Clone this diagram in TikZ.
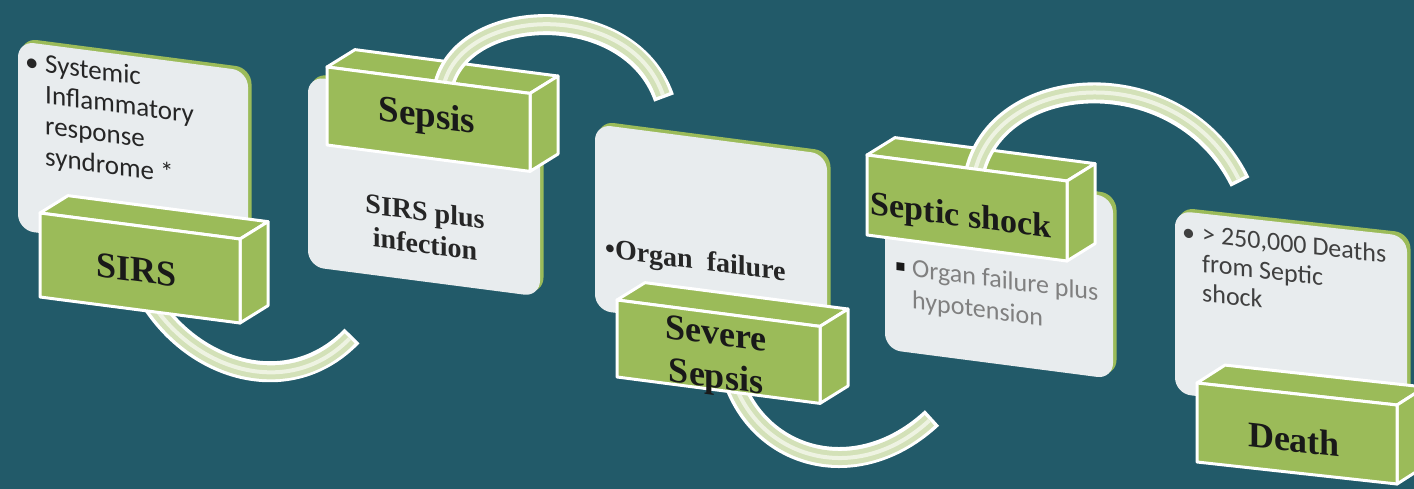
\documentclass[tikz,border=0pt]{standalone}
\usepackage{fontspec}
\setmainfont{Liberation Serif}
\newfontfamily\carlito{Carlito}
\newfontfamily\dejavu{DejaVu Sans}
\definecolor{bg}{HTML}{225A69}
\definecolor{grn}{HTML}{9BBB59}
\definecolor{pale}{HTML}{E8ECEE}
\definecolor{bandc}{HTML}{D3E1B8}
\definecolor{bandhic}{HTML}{EEF3E2}
\tikzset{
  lboxs/.style={fill=pale, rounded corners=16pt},
  lshad/.style={fill=grn, rounded corners=16pt},
  gface/.style={fill=grn, draw=white, line width=3pt, line join=round},
  lbl/.style={font=\bfseries\fontsize{36}{43}\selectfont, anchor=base, inner sep=0pt, text=black!90},
  btxt/.style={font=\bfseries\fontsize{28}{33}\selectfont, anchor=base, inner sep=0pt, text=black!85},
  stxt/.style={font=\carlito\fontsize{27}{31}\selectfont, anchor=base west, inner sep=0pt},
  bandout/.style={draw=white, line width=21pt, line cap=butt},
  bandmid/.style={draw=bandc, line width=14pt, line cap=butt, shorten >=3.5pt},
  bandhi/.style={draw=bandhic, line width=4pt, line cap=butt, shorten >=3.5pt},
  pA/.style={shift={(40,213)}, yslant=-0.13, transform shape},
  pB/.style={shift={(327,67)}, yslant=-0.13, transform shape},
  pC/.style={shift={(617,300)}, yslant=-0.13, transform shape},
  pD/.style={shift={(867,155)}, yslant=-0.13, transform shape},
  pE/.style={shift={(1197,383)}, yslant=-0.11, transform shape},
}
\newcommand\lightbox[4]{%
  \fill[lshad] (#1+3,#2-3.5) rectangle (#3+3.5,#4-3.5);
  \fill[lboxs] (#1,#2) rectangle (#3,#4);}
\newcommand\gback[2]{%
  \filldraw[gface] (0,0) -- (28,-21) -- (#1+28,-21) -- (#1,0) -- cycle;
  \filldraw[gface] (#1,0) -- (#1+28,-21) -- (#1+28,#2-21) -- (#1,#2) -- cycle;}
\newcommand\gfront[2]{\filldraw[gface] (0,0) rectangle (#1,#2);}
\newcommand\band[1]{\draw[bandout] #1; \draw[bandmid] #1; \draw[bandhi] #1;}
\newcommand\lines[2]{\begin{tabular}[t]{@{}#1@{}}#2\end{tabular}}
\begin{document}
\begin{tikzpicture}[x=1pt,y=-1pt]
\useasboundingbox (0,0) rectangle (1414,489);
\clip (0,0) rectangle (1414,489);
\fill[bg] (0,0) rectangle (1414,489);

% arrow 1 (from under SIRS)
\coordinate (a1s) at (150,300);
\coordinate (a1e) at (352,336);
\band{(a1s) .. controls (195,372) and (290,400) .. (a1e)}

% arrow 3 (from under Severe Sepsis)
\coordinate (a3s) at (735,385);
\coordinate (a3e) at (932,418);
\band{(a3s) .. controls (765,462) and (860,485) .. (a3e)}

% panel 1: SIRS
\begin{scope}[pA]
  \lightbox{-22}{-169}{208}{20}
  \node[stxt, text=black!85] (s1b) at (-15,-141) {•};
  \node[stxt, text=black!85] (s1t) at (5,-141)
    {\lines{l}{Systemic\\Inflammatory\\response\\syndrome *}};
  \gback{200}{84}
  \gfront{200}{84}
  \node[lbl] (sirs) at (97,56) {SIRS};
\end{scope}

% panel 2: Sepsis
\begin{scope}[pB]
  \lightbox{-19}{12}{213}{202}
  \node[btxt] (s2t) at (98,141) {\lines{c}{SIRS plus\\infection}};
  \gback{203}{78}
\end{scope}
\coordinate (a2s) at (444,84);
\coordinate (a2e) at (664,98);
\band{(a2s) .. controls (465,5) and (630,0) .. (a2e)}
\begin{scope}[pB]
  \gfront{203}{78}
  \node[lbl, font=\bfseries\fontsize{37}{43}\selectfont] (sepsis) at (100,47) {Sepsis};
\end{scope}

% panel 3: Severe Sepsis
\begin{scope}[pC]
  \lightbox{-22}{-173}{210}{13}
  \node[btxt, anchor=base west] (s3t) at (-12,-41) {\textbullet Organ\ \ failure};
  \gback{203}{77}
  \gfront{203}{77}
  \node[lbl] (sev) at (99,32) {\lines{c}{Severe\\Sepsis}};
\end{scope}

% panel 4: Septic shock
\begin{scope}[pD]
  \lightbox{18}{10}{246}{192}
  \node[stxt, font=\dejavu\fontsize{16}{20}\selectfont, text=black!90] (s4b) at (28,112) {▪};
  \node[stxt, font=\carlito\fontsize{26}{32}\selectfont, text=black!50] (s4t) at (45,116)
    {\lines{l}{Organ failure plus\\hypotension}};
  \gback{200}{80}
\end{scope}
\coordinate (a4s) at (975,171);
\coordinate (a4e) at (1240,182);
\band{(a4s) .. controls (1000,70) and (1180,60) .. (a4e)}
\begin{scope}[pD]
  \gfront{200}{80}
  \node[lbl, font=\bfseries\fontsize{34}{38}\selectfont] (septic) at (94,59) {Septic shock};
\end{scope}

% panel 5: Death
\begin{scope}[pE]
  \lightbox{-22}{-170}{210}{13}
  \node[stxt, font=\carlito\fontsize{26}{29.5}\selectfont, text=black!75] (s5b) at (-15,-141) {•};
  \node[stxt, font=\carlito\fontsize{26}{29.5}\selectfont, text=black!75] (s5t) at (5,-141)
    {\lines{l}{> 250,000 Deaths\\from Septic\\shock}};
  \gback{200}{79}
  \gfront{200}{79}
  \node[lbl] (death) at (97,58) {Death};
\end{scope}
\end{tikzpicture}
\end{document}
